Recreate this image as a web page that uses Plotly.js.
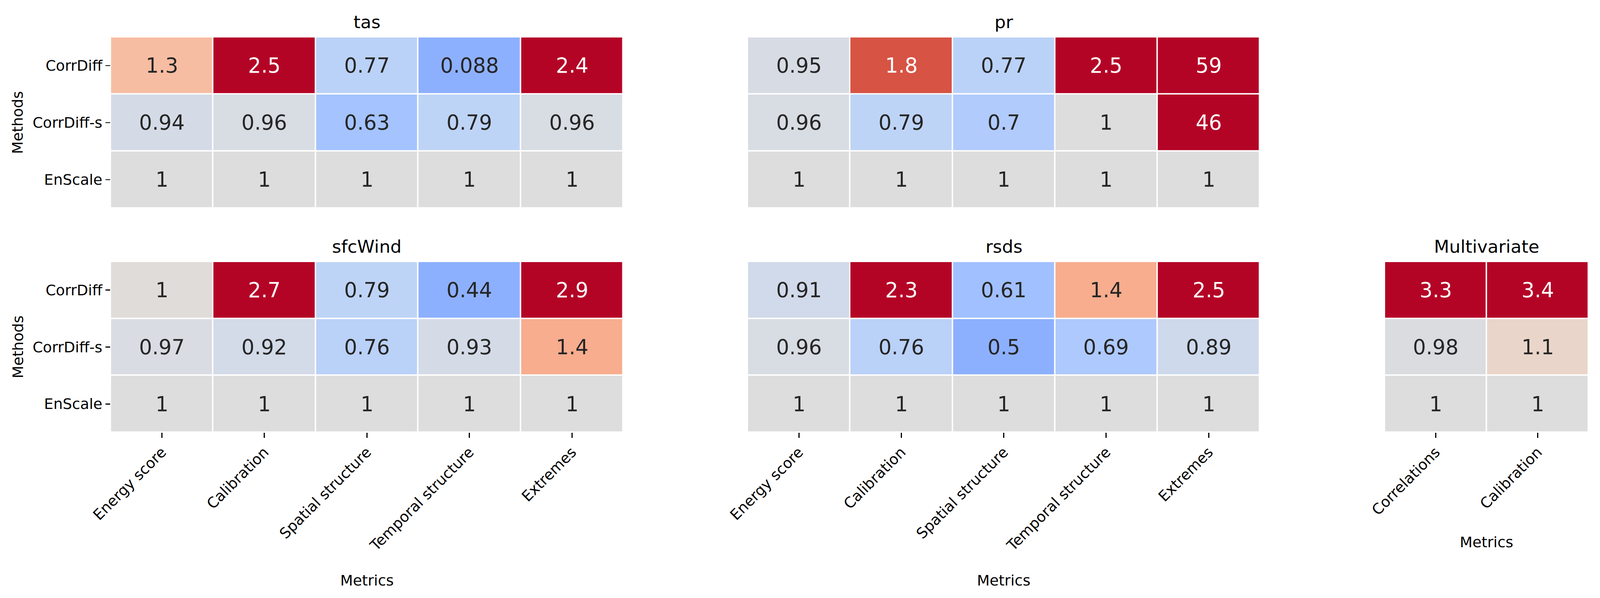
<!DOCTYPE html>
<html>
<head>
<meta charset="utf-8">
<script src="https://cdn.plot.ly/plotly-3.0.1.min.js"></script>
<style>html,body{margin:0;padding:0;background:#fff;overflow:hidden;}#chart{position:absolute;left:0;top:0;}</style>
</head>
<body>
<div id="chart"></div>
<script>
// ---------------- data ----------------
const methods = ["CorrDiff", "CorrDiff-s", "EnScale"];
const metrics = ["Energy score", "Calibration", "Spatial structure", "Temporal structure", "Extremes"];
const multiMetrics = ["Correlations", "Calibration"];

const tasValues = [
  [1.3, 2.5, 0.77, 0.088, 2.4],
  [0.94, 0.96, 0.63, 0.79, 0.96],
  [1, 1, 1, 1, 1]
];
const prValues = [
  [0.95, 1.8, 0.77, 2.5, 59],
  [0.96, 0.79, 0.7, 1, 46],
  [1, 1, 1, 1, 1]
];
const sfcWindValues = [
  [1.02, 2.7, 0.79, 0.44, 2.9],
  [0.97, 0.92, 0.76, 0.93, 1.4],
  [1, 1, 1, 1, 1]
];
const rsdsValues = [
  [0.91, 2.3, 0.61, 1.4, 2.5],
  [0.96, 0.76, 0.5, 0.69, 0.89],
  [1, 1, 1, 1, 1]
];
const multivariateValues = [
  [3.3, 3.4],
  [0.98, 1.1],
  [1, 1]
];

// ---------------- colormap (matplotlib coolwarm, seaborn centre=1, vmin=0.5, vmax=2) ----------------
const COOLWARM = [
  [0.0,59,76,192],[0.03125,68,90,204],[0.0625,77,104,215],[0.09375,87,117,225],
  [0.125,98,130,234],[0.15625,108,142,241],[0.1875,119,154,247],[0.21875,130,165,251],
  [0.25,141,176,254],[0.28125,152,185,255],[0.3125,163,194,255],[0.34375,174,201,253],
  [0.375,184,208,249],[0.40625,194,213,244],[0.4375,204,217,238],[0.46875,213,219,230],
  [0.5,221,221,221],[0.53125,229,216,209],[0.5625,236,211,197],[0.59375,241,204,184],
  [0.625,245,196,172],[0.65625,247,187,159],[0.6875,247,177,147],[0.71875,247,166,134],
  [0.75,244,154,123],[0.78125,241,141,111],[0.8125,236,127,99],[0.84375,229,112,88],
  [0.875,222,96,77],[0.90625,213,80,66],[0.9375,203,62,56],[0.96875,192,40,47],[1.0,180,4,38]
];
const VMIN = 0.5, VMAX = 2, CENTER = 1;
const vrange = Math.max(VMAX - CENTER, CENTER - VMIN);
const cLo = (VMIN - (CENTER - vrange)) / (2 * vrange);
const cHi = (VMAX - (CENTER - vrange)) / (2 * vrange);

function coolwarm(t) {
  t = Math.max(0, Math.min(1, t));
  for (let i = 0; i < COOLWARM.length - 1; i++) {
    const a = COOLWARM[i], b = COOLWARM[i + 1];
    if (t >= a[0] && t <= b[0]) {
      const f = (t - a[0]) / (b[0] - a[0]);
      return [a[1] + f * (b[1] - a[1]), a[2] + f * (b[2] - a[2]), a[3] + f * (b[3] - a[3])];
    }
  }
  const l = COOLWARM[COOLWARM.length - 1];
  return [l[1], l[2], l[3]];
}
function rgbStr(c) { return 'rgb(' + c.map(v => Math.round(v)).join(',') + ')'; }

const colorscale = [];
for (let i = 0; i <= 48; i++) {
  const p = i / 48;
  colorscale.push([p, rgbStr(coolwarm(cLo + p * (cHi - cLo)))]);
}
function cellColor(v) {
  const p = (Math.max(VMIN, Math.min(VMAX, v)) - VMIN) / (VMAX - VMIN);
  return coolwarm(cLo + p * (cHi - cLo));
}
function luminance(c) {
  const lin = c.map(v => { v = v / 255; return v <= 0.03928 ? v / 12.92 : Math.pow((v + 0.055) / 1.055, 2.4); });
  return 0.2126 * lin[0] + 0.7152 * lin[1] + 0.0722 * lin[2];
}
function fmt2g(v) { return String(Number(v.toPrecision(2))); }

// ---------------- layout geometry (reference pixels, mapped onto the viewport) ----------------
const REF_W = 4526, REF_H = 1531;
const W = window.innerWidth, H = window.innerHeight;
const S = W / REF_W;
const sc = v => v * S;
const FONT = 'DejaVu Sans, Verdana, sans-serif';
const px2x = p => p / REF_W;
const px2y = p => 1 - p / REF_H;

const chartDiv = document.getElementById('chart');
chartDiv.style.width = W + 'px';
chartDiv.style.height = H + 'px';

const panels = [
  {title: 'tas', z: tasValues, x: metrics, x0: 313, x1: 1763, y0: 95, y1: 533, left: true, bottom: false},
  {title: 'pr', z: prValues, x: metrics, x0: 2115, x1: 3564, y0: 95, y1: 533, left: false, bottom: false},
  {title: 'sfcWind', z: sfcWindValues, x: metrics, x0: 313, x1: 1763, y0: 670, y1: 1107, left: true, bottom: true},
  {title: 'rsds', z: rsdsValues, x: metrics, x0: 2115, x1: 3564, y0: 670, y1: 1107, left: false, bottom: true},
  {title: 'Multivariate', z: multivariateValues, x: multiMetrics, x0: 3917, x1: 4494, y0: 670, y1: 1107, left: false, bottom: true}
];

const data = [];
const annotations = [];
const layout = {
  width: W, height: H,
  margin: {l: 0, r: 0, t: 0, b: 0, pad: 0},
  paper_bgcolor: '#fff', plot_bgcolor: '#fff',
  showlegend: false,
  font: {family: FONT, color: '#000'}
};

panels.forEach((p, i) => {
  const n = i + 1;
  const xa = n === 1 ? 'x' : 'x' + n;
  const ya = n === 1 ? 'y' : 'y' + n;
  const xkey = n === 1 ? 'xaxis' : 'xaxis' + n;
  const ykey = n === 1 ? 'yaxis' : 'yaxis' + n;

  data.push({
    type: 'heatmap', z: p.z, x: p.x, y: methods,
    xaxis: xa, yaxis: ya,
    colorscale: colorscale, zmin: VMIN, zmax: VMAX, showscale: false,
    xgap: sc(4), ygap: sc(4), hoverinfo: 'skip'
  });

  layout[xkey] = {
    domain: [px2x(p.x0), px2x(p.x1)], anchor: ya, type: 'category',
    showgrid: false, zeroline: false, showline: false, fixedrange: true,
    ticks: p.bottom ? 'outside' : '', ticklen: sc(14), tickwidth: sc(3.3), tickcolor: '#000',
    showticklabels: p.bottom, tickangle: -45, ticklabelstandoff: sc(10),
    tickfont: {family: FONT, size: sc(41.7), color: '#000'}
  };
  layout[ykey] = {
    domain: [px2y(p.y1), px2y(p.y0)], anchor: xa, type: 'category', autorange: 'reversed',
    showgrid: false, zeroline: false, showline: false, fixedrange: true,
    ticks: p.left ? 'outside' : '', ticklen: sc(14), tickwidth: sc(3.3), tickcolor: '#000',
    showticklabels: p.left, ticklabelstandoff: sc(12),
    tickfont: {family: FONT, size: sc(41.7), color: '#000'}
  };

  // cell annotations
  p.z.forEach((row, r) => {
    row.forEach((v, c) => {
      const col = cellColor(v);
      annotations.push({
        xref: xa, yref: ya, x: p.x[c], y: methods[r],
        text: fmt2g(v), showarrow: false,
        font: {family: FONT, size: sc(58), color: luminance(col) > 0.408 ? '#262626' : '#ffffff'}
      });
    });
  });

  // panel title
  annotations.push({
    xref: 'paper', yref: 'paper', x: px2x((p.x0 + p.x1) / 2), y: px2y(p.y0 - 38),
    text: p.title, showarrow: false, xanchor: 'center', yanchor: 'middle',
    font: {family: FONT, size: sc(50), color: '#000'}
  });

  // axis labels
  if (p.left) {
    annotations.push({
      xref: 'paper', yref: 'paper', x: px2x(50), y: px2y((p.y0 + p.y1) / 2),
      text: 'Methods', showarrow: false, textangle: -90, xanchor: 'center', yanchor: 'middle',
      font: {family: FONT, size: sc(41.7), color: '#000'}
    });
  }
  if (p.bottom) {
    const yc = p.x.length === 2 ? 1388 : 1486;
    annotations.push({
      xref: 'paper', yref: 'paper', x: px2x((p.x0 + p.x1) / 2), y: px2y(yc),
      text: 'Metrics', showarrow: false, xanchor: 'center', yanchor: 'middle',
      font: {family: FONT, size: sc(41.7), color: '#000'}
    });
  }
});

layout.annotations = annotations;
Plotly.newPlot('chart', data, layout, {staticPlot: true, displayModeBar: false});
</script>
</body>
</html>
